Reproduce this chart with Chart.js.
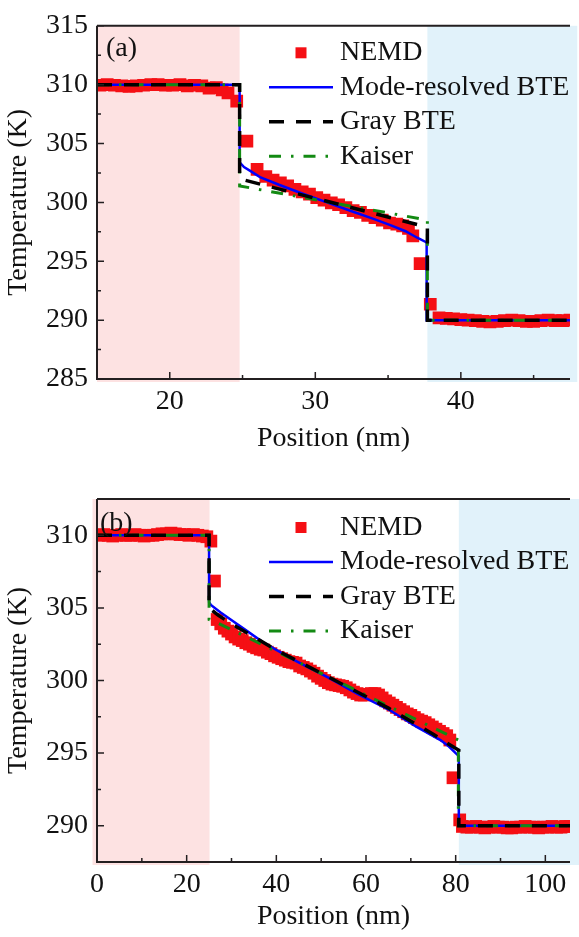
<!DOCTYPE html>
<html>
<head>
<meta charset="utf-8">
<script src="https://cdn.jsdelivr.net/npm/chart.js@4.4.1/dist/chart.umd.min.js"></script>
<style>
  html, body { margin: 0; padding: 0; background: #fff; }
  #wrap { position: relative; width: 579px; height: 937px; overflow: hidden; }
  canvas { position: absolute; left: 0; }
  #chartA { top: 0; }
  #chartB { top: 470px; }
</style>
</head>
<body>
<div id="wrap">
  <canvas id="chartA" width="579" height="470"></canvas>
  <canvas id="chartB" width="579" height="467"></canvas>
</div>
<script>
// ===== PANEL (a) DATA =====
const xTicksA = [20, 30, 40];
const yTicksA = [285, 290, 295, 300, 305, 310, 315];
const hotA = [15, 24.8];
const coldA = [37.7, 48];

const nemdAx = [15.2, 15.7, 16.2, 16.7, 17.2, 17.7, 18.2, 18.7, 19.2, 19.7, 20.2, 20.7, 21.2, 21.7, 22.2, 22.7, 23.2, 23.6, 24.0, 24.6,
  25.3, 26.0, 26.6, 27.1, 27.6, 28.1, 28.6, 29.1, 29.6, 30.1, 30.6, 31.1, 31.6, 32.1, 32.6, 33.1, 33.6, 34.1, 34.6, 35.1, 35.6, 36.0, 36.4, 36.7,
  37.2, 37.9, 38.5, 39.0, 39.5, 40.0, 40.5, 41.0, 41.5, 42.0, 42.5, 43.0, 43.5, 44.0, 44.5, 45.0, 45.5, 46.0, 46.5, 47.0, 47.5];
const nemdAy = [309.95, 310.0, 309.95, 309.9, 309.85, 309.9, 309.95, 310.0, 310.0, 309.95, 309.95, 310.0, 309.9, 309.95, 309.9, 309.7, 309.75, 309.55, 309.3, 308.6,
  305.2, 302.8, 302.2, 301.9, 301.65, 301.4, 301.1, 300.9, 300.7, 300.4, 300.2, 299.95, 299.8, 299.55, 299.3, 299.15, 298.9, 298.7, 298.5, 298.25, 298.15, 298.0, 297.8, 297.15,
  294.8, 291.35, 290.2, 290.15, 290.1, 290.05, 290.0, 289.95, 289.9, 289.85, 289.9, 289.95, 290.0, 289.95, 289.9, 289.9, 289.95, 290.0, 289.95, 289.95, 290.0];

const modeAx = [15, 24.8, 24.8, 25.1, 25.5, 26.2, 27.5, 29, 30.7, 32.5, 34, 35.2, 36.2, 37.0, 37.65, 37.65, 47.5];
const modeAy = [310, 310, 303.4, 303.0, 302.7, 302.15, 301.5, 300.8, 300.05, 299.25, 298.6, 298.05, 297.55, 297.0, 296.6, 290, 290];

const grayAx = [15, 24.8, 24.8, 37.7, 37.7, 47.5];
const grayAy = [310, 310, 302.0, 297.9, 290, 290];

const kaiserAx = [15, 24.8, 24.8, 37.7, 37.7, 47.5];
const kaiserAy = [310, 310, 301.4, 298.5, 290, 290];

// ===== PANEL (b) DATA =====
const xTicksB = [0, 20, 40, 60, 80, 100];
const yTicksB = [290, 295, 300, 305, 310];
const hotB = [-1, 25.1];
const coldB = [80.7, 110];

const nemdBx = [0.5, 1.5, 2.5, 3.5, 4.5, 5.5, 6.5, 7.5, 8.5, 9.5, 10.5, 11.5, 12.5, 13.5, 14.5, 15.5, 16.5, 17.5, 18.5, 19.5, 20.5, 21.5, 22.5, 23.5, 24.5,
  25.4, 26.2, 26.8, 27.6, 28.4, 29.2, 30.0, 30.8, 31.6, 32.4, 33.2, 34.0, 34.8, 35.6, 36.4, 37.2, 38.0, 38.8, 39.6, 40.4, 41.2, 42.0, 42.8, 43.6, 44.4,
  45.2, 46.0, 46.8, 47.6, 48.4, 49.2, 50.0, 50.8, 51.6, 52.4, 53.2, 54.0, 54.8, 55.6, 56.4, 57.2, 58.0, 58.8, 59.6, 60.4, 61.2, 62.0, 62.8, 63.6, 64.4,
  65.2, 66.0, 66.8, 67.6, 68.4, 69.2, 70.0, 70.8, 71.6, 72.4, 73.2, 74.0, 74.8, 75.6, 76.4, 77.2, 78.0, 78.7, 79.4, 80.9,
  81.5, 82.5, 83.5, 84.5, 85.5, 86.5, 87.5, 88.5, 89.5, 90.5, 91.5, 92.5, 93.5, 94.5, 95.5, 96.5, 97.5, 98.5, 99.5, 100.5, 101.5, 102.5, 103.5, 104.5, 105.5];
const nemdBy = [310.0, 310.05, 310.0, 309.95, 310.0, 310.05, 310.0, 310.0, 310.05, 310.0, 309.95, 310.0, 310.0, 310.05, 310.1, 310.1, 310.15, 310.1, 310.05, 310.05, 310.0, 310.05, 310.0, 309.95, 309.9,
  309.6, 306.85, 304.2, 303.9, 303.6, 303.4, 303.2, 303.0, 302.85, 302.75, 302.6, 302.5, 302.35, 302.25, 302.15, 302.1, 301.95, 301.85, 301.7, 301.6, 301.5, 301.4, 301.3, 301.25, 301.2,
  301.0, 300.9, 300.8, 300.65, 300.5, 300.3, 300.15, 300.0, 299.85, 299.75, 299.7, 299.65, 299.6, 299.5, 299.35, 299.2, 299.1, 299.0, 299.0, 299.05, 299.1, 299.1, 299.0, 298.8, 298.6,
  298.45, 298.3, 298.15, 298.0, 297.85, 297.7, 297.6, 297.45, 297.3, 297.2, 297.1, 296.95, 296.8, 296.65, 296.5, 296.35, 296.2, 295.9, 293.3, 290.4,
  289.95, 289.9, 289.9, 289.95, 289.9, 289.85, 289.9, 289.95, 289.9, 289.9, 289.85, 289.85, 289.9, 289.9, 289.95, 289.9, 289.9, 289.85, 289.9, 289.9, 289.95, 289.9, 289.9, 289.95, 289.95];

const modeBx = [0, 25.0, 25.0, 25.4, 27.5, 29.8, 33.5, 37.2, 44, 51.6, 58, 65.6, 71.3, 76.6, 78.5, 80.0, 80.7, 80.7, 105.5];
const modeBy = [310, 310, 305.4, 305.2, 304.7, 304.2, 303.4, 302.6, 301.4, 300.2, 299.1, 297.9, 296.8, 295.9, 295.45, 295.0, 294.8, 290, 290];

const grayBx = [0, 25.0, 25.0, 27, 30, 35, 40, 45, 50, 55, 60, 65, 70, 75, 78, 80.7, 80.7, 105.5];
const grayBy = [310, 310, 305.0, 304.5, 303.9, 303.0, 302.1, 301.3, 300.5, 299.7, 298.9, 298.1, 297.2, 296.3, 295.7, 295.2, 290, 290];

const kaiserBx = [0, 25.0, 25.0, 26.0, 80.6, 80.6, 105.5];
const kaiserBy = [310, 310, 304.2, 304.1, 295.9, 290, 290];

// ===== HELPERS =====
const SERIF = "'Liberation Serif', 'Times New Roman', serif";
Chart.defaults.font.family = SERIF;
Chart.defaults.font.size = 28;
Chart.defaults.color = '#111';

function pts(xs, ys) {
  return xs.map((x, i) => ({ x: x, y: ys[i] }));
}

// bands, frame with inward ticks, panel tag and legend
const framePlugin = {
  id: 'frame',
  beforeDraw(chart, args, o) {
    const { ctx, chartArea: a, scales: { x } } = chart;
    ctx.save();
    [[o.hot, '#fde2e2'], [o.cold, '#e1f2fa']].forEach(([r, c]) => {
      const x0 = Math.max(x.getPixelForValue(r[0]), 0);
      const x1 = Math.min(x.getPixelForValue(r[1]), chart.width);
      ctx.fillStyle = c;
      ctx.fillRect(x0, a.top, x1 - x0, a.bottom - a.top + 3);
    });
    ctx.restore();
  },
  afterDraw(chart, args, o) {
    const { ctx, chartArea: a, scales: { x, y } } = chart;
    ctx.save();
    ctx.strokeStyle = '#231f20';
    ctx.lineWidth = 2;
    ctx.beginPath();
    ctx.moveTo(a.left, a.top); ctx.lineTo(a.right, a.top);
    ctx.moveTo(a.left, a.top); ctx.lineTo(a.left, a.bottom); ctx.lineTo(a.right, a.bottom);
    ctx.stroke();

    ctx.lineWidth = 1.5;
    ctx.beginPath();
    [[x, true], [y, false]].forEach(([s, horiz]) => {
      const vals = s.ticks.map(t => t.value);
      const step = vals[1] - vals[0];
      const minors = vals.map(v => v + step / 2).concat(vals[0] - step / 2)
        .filter(v => v > s.min && v < s.max);
      const mark = (v, len) => {
        const p = s.getPixelForValue(v);
        if (horiz) { ctx.moveTo(p, a.bottom); ctx.lineTo(p, a.bottom - len); }
        else { ctx.moveTo(a.left, p); ctx.lineTo(a.left + len, p); }
      };
      vals.forEach(v => mark(v, 7));
      minors.forEach(v => mark(v, 4));
    });
    ctx.stroke();

    // panel tag
    ctx.fillStyle = '#111';
    ctx.font = '28px ' + SERIF;
    ctx.textBaseline = 'middle';
    ctx.textAlign = 'left';
    ctx.fillText(o.tag, o.tagX, a.top + o.tagDy);

    // legend
    chart.data.datasets.forEach((ds, i) => {
      const yy = a.top + o.legendDy + i * 34.5;
      if (ds.showLine === false) {
        ctx.fillStyle = ds.pointBackgroundColor;
        ctx.fillRect(301 - 5.5, yy - 5.5, 11, 11);
      } else {
        ctx.strokeStyle = ds.borderColor;
        ctx.lineWidth = ds.borderWidth;
        ctx.setLineDash(ds.borderDash || []);
        ctx.beginPath();
        ctx.moveTo(269, yy);
        ctx.lineTo(333, yy);
        ctx.stroke();
        ctx.setLineDash([]);
      }
      ctx.fillStyle = '#111';
      ctx.fillText(ds.label, 340, yy);
    });
    ctx.restore();
  }
};

function makeChart(id, cfg) {
  return new Chart(document.getElementById(id), {
    type: 'line',
    data: {
      datasets: [
        { label: 'NEMD', data: pts(cfg.nemd[0], cfg.nemd[1]), showLine: false,
          pointStyle: 'rect', pointRadius: 9, pointBackgroundColor: '#f50f14', pointBorderWidth: 0, order: 10 },
        { label: 'Mode-resolved BTE', data: pts(cfg.mode[0], cfg.mode[1]),
          borderColor: '#0000ff', borderWidth: 2.5, pointRadius: 0, order: 3 },
        { label: 'Gray BTE', data: pts(cfg.gray[0], cfg.gray[1]),
          borderColor: '#000000', borderWidth: 3.5, borderDash: [15, 12], pointRadius: 0, order: 1 },
        { label: 'Kaiser', data: pts(cfg.kaiser[0], cfg.kaiser[1]),
          borderColor: '#138a13', borderWidth: 3, borderDash: [12, 10, 2.5, 10], pointRadius: 0, order: 2 },
      ],
    },
    options: {
      responsive: false,
      animation: false,
      devicePixelRatio: 1,
      events: [],
      layout: { padding: { top: cfg.padTop, right: 0, left: 0, bottom: 0 } },
      plugins: {
        legend: { display: false },
        tooltip: { enabled: false },
        frame: { hot: cfg.hot, cold: cfg.cold, tag: cfg.tag, tagX: cfg.tagX, tagDy: cfg.tagDy, legendDy: cfg.legendDy },
      },
      scales: {
        x: {
          type: 'linear', min: cfg.xMin, max: cfg.xMax,
          afterBuildTicks: s => { s.ticks = cfg.xTicks.map(v => ({ value: v })); },
          afterFit: s => { s.height = cfg.axisH; },
          grid: { display: false, drawTicks: false },
          border: { display: false },
          ticks: { padding: 5.7 },
          title: { display: true, text: 'Position (nm)', padding: { top: 0, bottom: cfg.xTitlePad } },
        },
        y: {
          type: 'linear', min: cfg.yMin, max: cfg.yMax,
          afterBuildTicks: s => { s.ticks = cfg.yTicks.map(v => ({ value: v })); },
          afterFit: s => { s.width = 97; },
          grid: { display: false, drawTicks: false },
          border: { display: false },
          ticks: { padding: 9 },
          title: { display: true, text: 'Temperature (K)', padding: { top: 2.2, bottom: 0 } },
        },
      },
    },
    plugins: [framePlugin],
  });
}

makeChart('chartA', {
  nemd: [nemdAx, nemdAy], mode: [modeAx, modeAy], gray: [grayAx, grayAy], kaiser: [kaiserAx, kaiserAy],
  xMin: 15, xMax: 47.5, yMin: 285, yMax: 315, xTicks: xTicksA, yTicks: yTicksA,
  hot: hotA, cold: coldA, tag: '(a)', tagX: 106, tagDy: 23, legendDy: 27,
  padTop: 16, axisH: 91, xTitlePad: 14.7,
});

makeChart('chartB', {
  nemd: [nemdBx, nemdBy], mode: [modeBx, modeBy], gray: [grayBx, grayBy], kaiser: [kaiserBx, kaiserBy],
  xMin: 0, xMax: 105.5, yMin: 287.5, yMax: 312.5, xTicks: xTicksB, yTicks: yTicksB,
  hot: hotB, cold: coldB, tag: '(b)', tagX: 100, tagDy: 25, legendDy: 28.5,
  padTop: 29, axisH: 75, xTitlePad: 3.2,
});
</script>
</body>
</html>
